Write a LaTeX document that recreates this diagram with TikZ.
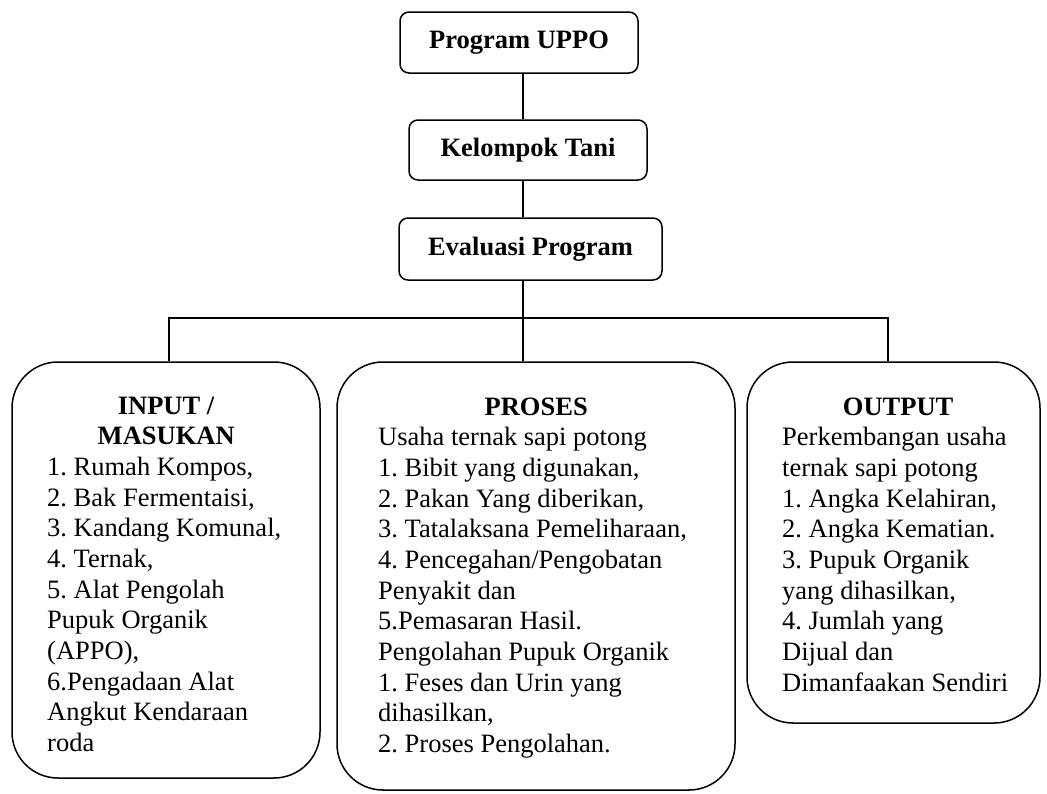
\documentclass[tikz,border=0pt]{standalone}
\usepackage{fontspec}
\setmainfont{Liberation Serif}
\begin{document}
\frenchspacing
\begin{tikzpicture}[x=1pt,y=1pt,
  smallbox/.style={draw, line width=1.5pt, rounded corners=9pt, inner sep=0pt, font=\fontsize{26.5}{30.5}\selectfont\bfseries},
  bigbox/.style={draw, line width=1.5pt, rounded corners=46pt, inner sep=0pt},
  body/.style={anchor=north west, inner sep=0pt, align=left, font=\frenchspacing\fontsize{26.5}{30.65}\selectfont},
  link/.style={line width=1.3pt}]
\useasboundingbox (0,0) rectangle (1047,-793);
% top chain
\node[smallbox, minimum width=238pt, minimum height=61pt] (uppo) at (519,-42.5) {Program UPPO};
\node[smallbox, minimum width=238pt, minimum height=60pt] (kel) at (528,-150) {Kelompok Tani};
\node[smallbox, minimum width=263pt, minimum height=62pt] (ev) at (530.5,-249) {Evaluasi Program};
% big boxes
\node[bigbox, minimum width=308pt, minimum height=416pt] (inp) at (166,-570) {};
\node[bigbox, minimum width=398pt, minimum height=428pt] (proc) at (536,-576) {};
\node[bigbox, minimum width=293pt, minimum height=361pt] (outp) at (893.5,-542.5) {};
% connectors
\coordinate (trunk) at (523,-318);
\coordinate (bl) at (169,-318);
\coordinate (br) at (888,-318);
\draw[link] (uppo.south -| trunk) -- (kel.north -| trunk);
\draw[link] (kel.south -| trunk) -- (ev.north -| trunk);
\draw[link] (ev.south -| trunk) -- (proc.north -| trunk);
\draw[link] (inp.north -| bl) -- (bl) -- (br) -- (outp.north -| br);
% texts
\node[body] (tin) at (47,-394) {\rule{0pt}{20pt}\makebox[238pt][c]{\textbf{INPUT /}}\\
\makebox[238pt][c]{\textbf{MASUKAN}}\\
1. Rumah Kompos,\\
2. Bak Fermentaisi,\\
3. Kandang Komunal,\\
4. Ternak,\\
5. Alat Pengolah\\
Pupuk Organik\\
(APPO),\\
6.Pengadaan Alat\\
Angkut Kendaraan\\
roda};
\node[body] (tproc) at (378,-395) {\rule{0pt}{20pt}\makebox[316pt][c]{\textbf{PROSES}}\\
Usaha ternak sapi potong\\
1. Bibit yang digunakan,\\
2. Pakan Yang diberikan,\\
3. Tatalaksana Pemeliharaan,\\
4. Pencegahan/Pengobatan\\
Penyakit dan\\
5.Pemasaran Hasil.\\
Pengolahan Pupuk Organik\\
1. Feses dan Urin yang\\
dihasilkan,\\
2. Proses Pengolahan.};
\node[body] (tout) at (782,-395) {\rule{0pt}{20pt}\makebox[232pt][c]{\textbf{OUTPUT}}\\
Perkembangan usaha\\
ternak sapi potong\\
1. Angka Kelahiran,\\
2. Angka Kematian.\\
3. Pupuk Organik\\
yang dihasilkan,\\
4. Jumlah yang\\
Dijual dan\\
Dimanfaakan Sendiri};
\end{tikzpicture}
\end{document}
